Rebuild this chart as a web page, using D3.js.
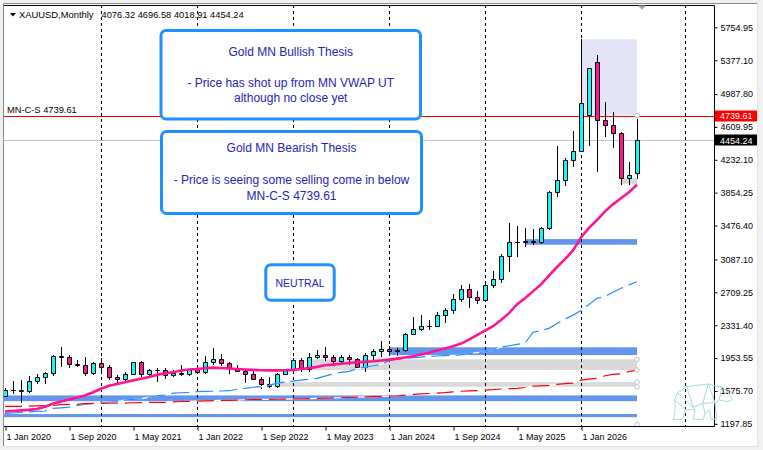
<!DOCTYPE html>
<html>
<head>
<meta charset="utf-8">
<script src="https://cdn.jsdelivr.net/npm/d3@7"></script>
<style>
  html, body { margin: 0; padding: 0; background: #f0f0f0; overflow: hidden; }
  svg { display: block; }
  .mt { font-family: "Liberation Sans", Arial, sans-serif; font-size: 9px; fill: #000; }
  .note { font-family: "Liberation Sans", Arial, sans-serif; font-size: 12px; fill: #2424b4; }
</style>
</head>
<body>
<svg id="chart" width="763" height="450"></svg>
<script>
// XAUUSD monthly, Jan 2020 .. Aug 2026
const firstMonth = new Date(2020, 0, 1);
const opens = [1517, 1589, 1586, 1577, 1686, 1730, 1781, 1975, 1968, 1886, 1879, 1777,
  1898, 1848, 1734, 1708, 1769, 1906, 1770, 1814, 1814, 1757, 1783, 1774,
  1829, 1797, 1909, 1937, 1897, 1837, 1807, 1766, 1711, 1660, 1633, 1768,
  1824, 1928, 1826, 1969, 1990, 1963, 1919, 1965, 1940, 1849, 1983, 2036,
  2063, 2040, 2044, 2230, 2286, 2327, 2326, 2447, 2503, 2634, 2744, 2654,
  2625, 2798, 2858, 3124, 3289, 3289, 3303, 3290, 3448, 3858, 4003, 4230,
  4330, 4745, 5361, 4690, 4633, 4541, 4018, 4076.32];
const highs = [1611, 1689, 1704, 1747, 1765, 1789, 1984, 2075, 1992, 1933, 1966, 1906,
  1959, 1875, 1755, 1798, 1913, 1917, 1833, 1834, 1834, 1814, 1877, 1831,
  1853, 1974, 2070, 1998, 1910, 1879, 1814, 1808, 1735, 1730, 1786, 1833,
  1949, 1959, 2009, 2048, 2079, 1983, 1987, 1987, 1953, 2009, 2052, 2146,
  2088, 2065, 2236, 2431, 2450, 2388, 2483, 2531, 2685, 2790, 2801, 2726,
  2817, 2956, 3148, 3500, 3470, 3452, 3439, 3454, 3871, 4390, 4255, 4567,
  5617, 5292, 5432, 4900, 4784, 4556, 4210, 4696.58];
const lows = [1517, 1547, 1451, 1568, 1670, 1671, 1757, 1863, 1849, 1860, 1764, 1775,
  1802, 1717, 1677, 1704, 1766, 1750, 1751, 1688, 1721, 1746, 1759, 1753,
  1781, 1781, 1890, 1872, 1787, 1805, 1681, 1709, 1615, 1617, 1616, 1765,
  1823, 1805, 1810, 1949, 1932, 1893, 1903, 1885, 1846, 1810, 1932, 1973,
  2002, 1984, 2039, 2228, 2277, 2286, 2319, 2364, 2471, 2604, 2536, 2583,
  2614, 2772, 2833, 2957, 3121, 3245, 3268, 3281, 3436, 3820, 3937, 4164,
  4328, 4406, 4099, 4508, 4374, 3953, 3956, 4018.91];
const closes = [1589, 1585, 1577, 1686, 1730, 1781, 1975, 1967, 1886, 1879, 1777, 1898,
  1848, 1734, 1708, 1769, 1906, 1770, 1814, 1814, 1757, 1783, 1774, 1829,
  1797, 1909, 1937, 1897, 1837, 1807, 1766, 1711, 1660, 1633, 1768, 1824,
  1928, 1826, 1969, 1990, 1963, 1919, 1965, 1940, 1849, 1983, 2036, 2063,
  2040, 2044, 2230, 2286, 2327, 2326, 2447, 2503, 2634, 2744, 2654, 2625,
  2798, 2858, 3124, 3289, 3290, 3303, 3290, 3448, 3858, 4003, 4230, 4337,
  4890, 5292, 4690, 4633, 4541, 4022, 4057, 4454.24];

// indicator lines
const vwapLine = [1340, 1345, 1352, 1358, 1368, 1395, 1432, 1455, 1476, 1500, 1524, 1560,
  1600, 1635, 1655, 1675, 1697, 1716, 1735, 1760, 1778, 1790, 1810, 1822,
  1827, 1836, 1843, 1840, 1834, 1828, 1822, 1818, 1813, 1812, 1812, 1814,
  1818, 1828, 1838, 1852, 1870, 1878, 1888, 1896, 1905, 1910, 1916, 1925,
  1935, 1947, 1960, 1975, 1995, 2015, 2040, 2062, 2090, 2120, 2165, 2216,
  2268, 2320, 2390, 2470, 2570, 2640, 2720, 2800, 2900, 3000, 3090, 3190,
  3340, 3450, 3540, 3640, 3720, 3790, 3860, 3945];
const blueLine = [1317, 1322, 1328, 1334, 1340, 1345, 1375, 1382, 1390, 1410, 1422, 1430,
  1445, 1448, 1452, 1470, 1478, 1485, 1505, 1520, 1528, 1550, 1555, 1560,
  1568, 1570, 1572, 1575, 1578, 1595, 1605, 1618, 1625, 1640, 1665, 1678,
  1688, 1700, 1708, 1720, 1745, 1770, 1790, 1800, 1830, 1850, 1865, 1880,
  1925, 1940, 1950, 1958, 1965, 1972, 1977, 1982, 1985, 1990, 2005, 2015,
  2025, 2040, 2080, 2095, 2110, 2125, 2250, 2270, 2295, 2350, 2400, 2447,
  2500, 2570, 2640, 2660, 2710, 2755, 2795, 2830];
const redLine = [1397, 1397, 1398, 1400, 1404, 1406, 1408, 1418, 1420, 1422, 1430, 1432,
  1433, 1434, 1435, 1436, 1440, 1442, 1443, 1444, 1445, 1450, 1454, 1455,
  1458, 1462, 1465, 1466, 1468, 1470, 1474, 1477, 1478, 1479, 1480, 1482,
  1484, 1486, 1487, 1489, 1492, 1495, 1497, 1500, 1505, 1508, 1510, 1513,
  1515, 1520, 1528, 1535, 1542, 1546, 1550, 1556, 1565, 1572, 1577, 1580,
  1585, 1590, 1598, 1602, 1606, 1615, 1630, 1634, 1640, 1652, 1660, 1665,
  1700, 1712, 1720, 1750, 1765, 1772, 1800, 1812];

// zones: [first bar, last bar, upper price, lower price]
const blueZones = [[-2, 79, 1524, 1458], [-2, 79, 1310, 1274], [48, 79, 2077, 1988], [65, 79, 3321, 3256]];
const greyZones = [[38, 79, 1939, 1816], [34, 79, 1677, 1624], [77, 79, 4022, 3956]];
const thesisZone = [72, 79, 5617, 4739.61];
const anchorPrices = [1939, 1816, 1677, 1624, 1190, 4739.61];

const mnCS = 4739.61;
const lastPrice = 4454.24;
const priceTicks = [1197.85, 1575.70, 1953.55, 2331.40, 2709.25, 3087.10, 3476.40, 3854.25, 4232.10, 4609.95, 4987.80, 5377.10, 5754.95];
const dateTickBars = [0, 8, 16, 24, 32, 40, 48, 56, 64, 72];
const gridBars = [12, 24, 36, 48, 60, 72, 85];

const bullishText = ["Gold MN Bullish Thesis", "", "- Price has shot up from MN VWAP UT", "although no close yet"];
const bearishText = ["Gold MN Bearish Thesis", "", "- Price is seeing some selling come in below", "MN-C-S 4739.61"];
const neutralText = ["NEUTRAL"];

(function () {
  const W = 763, H = 450;
  const plot = { left: 4, top: 5, right: 714, bottom: 426 };

  function draw() {
    const svg = d3.select("#chart");
    const months = d3.timeMonth.range(firstMonth, d3.timeMonth.offset(firstMonth, closes.length));
    const fmtDate = d3.timeFormat("%-d %b %Y");

    const x = d3.scaleLinear().domain([0, closes.length - 1]).range([5, 637]);
    const y = d3.scaleLinear().domain([1197.85, 5754.95]).range([423.8, 27.3]);
    const px = (i) => Math.round(x(i)) + 0.5;
    const py = (v) => Math.round(y(v)) + 0.5;

    // window frame
    svg.append("rect").attr("width", W).attr("height", H).attr("fill", "#f0f0f0");
    svg.append("rect").attr("x", 3).attr("y", 3).attr("width", 755).attr("height", 444).attr("fill", "#fff");
    svg.append("path").attr("d", "M3.5,447 V3.5 H758").attr("fill", "none").attr("stroke", "#8a8a8a");
    svg.append("path").attr("d", "M3,446.5 H757.5 V3").attr("fill", "none").attr("stroke", "#e3e3e3");

    svg.append("clipPath").attr("id", "plot-clip")
      .append("rect").attr("x", plot.left).attr("y", plot.top)
      .attr("width", plot.right - plot.left).attr("height", plot.bottom - plot.top);
    const g = svg.append("g").attr("clip-path", "url(#plot-clip)");

    // background objects
    g.append("rect")
      .attr("x", x(thesisZone[0])).attr("y", y(thesisZone[2]))
      .attr("width", x(thesisZone[1]) - x(thesisZone[0]))
      .attr("height", y(thesisZone[3]) - y(thesisZone[2]))
      .attr("fill", "#e4e4f8");
    function zones(list, color) {
      g.selectAll(null).data(list).enter().append("rect")
        .attr("x", (d) => x(d[0])).attr("y", (d) => y(d[2]))
        .attr("width", (d) => x(d[1]) - x(d[0]))
        .attr("height", (d) => y(d[3]) - y(d[2]))
        .attr("fill", color);
    }
    zones(greyZones, "#d9d9d9");
    zones(blueZones, "#6495ed");

    // yearly grid
    g.selectAll(null).data(gridBars).enter().append("line")
      .attr("x1", px).attr("x2", px).attr("y1", plot.top).attr("y2", plot.bottom)
      .attr("stroke", "#000").attr("stroke-dasharray", "3,3");

    // horizontal price lines
    g.append("line").attr("x1", plot.left).attr("x2", plot.right)
      .attr("y1", py(lastPrice)).attr("y2", py(lastPrice)).attr("stroke", "#c0c0c0");
    g.append("line").attr("x1", plot.left).attr("x2", plot.right)
      .attr("y1", py(mnCS)).attr("y2", py(mnCS)).attr("stroke", "#ff0000");

    // candles
    const candles = g.append("g");
    closes.forEach((c, i) => {
      const cx = Math.round(x(i));
      candles.append("line")
        .attr("x1", cx + 0.5).attr("x2", cx + 0.5)
        .attr("y1", Math.round(y(highs[i]))).attr("y2", Math.round(y(lows[i])) + 1)
        .attr("stroke", "#000");
      const top = py(Math.max(opens[i], c));
      const bottom = py(Math.min(opens[i], c));
      candles.append("path")
        .attr("d", `M${cx - 1.5},${top} H${cx + 2.5} V${bottom} H${cx - 1.5} Z`)
        .attr("fill", c >= opens[i] ? "#00ffff" : "#ff1493")
        .attr("stroke", "#000");
    });

    // indicator lines
    const line = d3.line().x((d, i) => x(i)).y((d) => y(d));
    [[blueLine, "#1e90ff", "18,6"], [redLine, "#ff0000", "17,7"]].forEach(([data, color, dash]) => {
      g.append("path").attr("d", line(data)).attr("fill", "none").attr("stroke", "#fff").attr("stroke-width", 1.2);
      g.append("path").attr("d", line(data)).attr("fill", "none").attr("stroke", color)
        .attr("stroke-width", 1.2).attr("stroke-dasharray", dash);
    });
    g.append("path").attr("d", line(vwapLine)).attr("fill", "none")
      .attr("stroke", "#ff1493").attr("stroke-width", 2.6);

    // object anchors
    g.selectAll(null).data(anchorPrices).enter().append("circle")
      .attr("cx", x(closes.length - 1)).attr("cy", (d) => y(d)).attr("r", 2.3)
      .attr("fill", "#fff").attr("stroke", "#c4c4c4");

    // plot frame
    svg.append("path")
      .attr("d", `M${plot.left},${plot.top + 0.5} H${plot.right + 0.5} V${plot.bottom + 0.5} H${plot.left}`)
      .attr("fill", "none").attr("stroke", "#000");
    svg.append("path").attr("d", "M638,5.5 L646,5.5 L642,10 Z").attr("fill", "#a8a8a8");

    // axes
    const yAxis = svg.append("g").attr("transform", `translate(${plot.right + 0.5},0)`)
      .call(d3.axisRight(y).tickValues(priceTicks).tickFormat(d3.format(".2f")).tickSize(3));
    const xAxis = svg.append("g").attr("transform", `translate(0,${plot.bottom + 0.5})`)
      .call(d3.axisBottom(x).tickValues(dateTickBars).tickFormat((i) => fmtDate(months[i])).tickSize(4));
    [yAxis, xAxis].forEach((a) => {
      a.select(".domain").remove();
      a.selectAll("text").attr("class", "mt").attr("font-family", null).attr("font-size", null);
      a.selectAll(".tick line").attr("stroke", "#000");
    });
    xAxis.selectAll(".tick line").attr("transform", "translate(0.5,0)");
    xAxis.selectAll("text").attr("text-anchor", "start").attr("x", 1);

    // price tags
    [[mnCS, "#ff0000"], [lastPrice, "#000"]].forEach(([v, color]) => {
      const ty = y(v);
      svg.append("rect").attr("x", 715).attr("y", Math.round(ty) - 5.5).attr("width", 42).attr("height", 11).attr("fill", color);
      svg.append("text").attr("class", "mt").attr("x", 720).attr("y", ty).attr("dy", "0.35em")
        .style("fill", "#fff").text(d3.format(".2f")(v));
    });

    // header + level label
    svg.append("path").attr("d", "M10,13 H16 L13,16.5 Z").attr("fill", "#000");
    svg.append("text").attr("class", "mt").attr("x", 19).attr("y", 17.5).style("font-size", "9.4px").text("XAUUSD,Monthly");
    svg.append("text").attr("class", "mt").attr("x", 101.5).attr("y", 17.5).style("font-size", "9.3px")
      .text([opens, highs, lows, closes].map((s) => s[s.length - 1].toFixed(2)).join(" "));
    svg.append("text").attr("class", "mt").attr("x", 7).attr("y", 112.5).style("font-size", "9.3px")
      .text("MN-C-S " + mnCS.toFixed(2));

    // note boxes
    function noteBox(rect, lines, firstBase, step, size) {
      const box = svg.append("g");
      box.append("rect").attr("x", rect[0]).attr("y", rect[1]).attr("width", rect[2]).attr("height", rect[3])
        .attr("rx", 5).attr("fill", "#fff").attr("stroke", "#1e90ff").attr("stroke-width", 3);
      box.selectAll(null).data(lines).enter().append("text")
        .attr("class", "note").attr("text-anchor", "middle")
        .attr("x", rect[0] + rect[2] / 2).attr("y", (d, i) => firstBase + i * step)
        .style("font-size", size).text((d) => d);
    }
    noteBox([161, 30.5, 259.5, 88.5], bullishText, 55.5, 15.5, "12px");
    noteBox([161.5, 131.5, 260, 82], bearishText, 151.5, 16.2, "12px");
    noteBox([265.8, 264.8, 68.4, 35.4], neutralText, 286.5, 0, "10.5px");

    // bear watermark
    const bear = svg.append("g").attr("transform", "translate(640,360) scale(0.3333)")
      .attr("fill", "none").attr("stroke", "#a6dbe0").attr("stroke-width", 3).attr("stroke-linejoin", "round");
    bear.append("path").attr("d",
      "M112,98 L140,80 L205,72 L225,78 L245,80 L262,95 L278,118 L262,125 L238,120 L225,128 L230,178 L213,178 L208,150 " +
      "L195,160 L190,178 L160,178 L165,150 L135,148 L128,178 L100,178 L106,145 L104,120 Z");
    bear.append("path").attr("d",
      "M140,80 L160,142 L188,130 L205,72 M188,130 L225,128 L205,72 M112,98 L160,142 M245,80 L238,120 " +
      "M104,120 L135,148 M188,130 L195,160 M165,150 L160,142");
  }

  document.addEventListener("DOMContentLoaded", draw);
})();
</script>
</body>
</html>
